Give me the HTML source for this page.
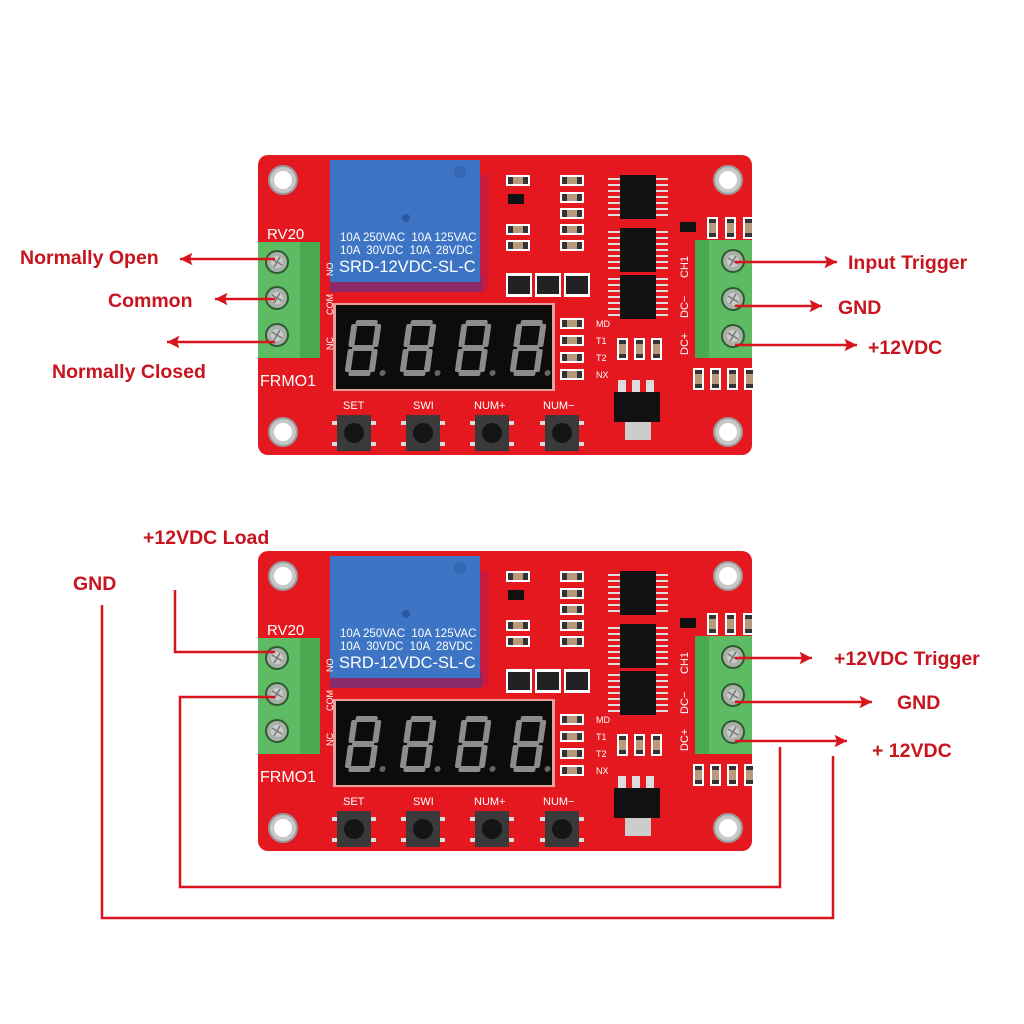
<!DOCTYPE html>
<html><head><meta charset="utf-8"><style>
html,body{margin:0;padding:0;background:#fff;}
svg{display:block;}
.lbl{font-family:"Liberation Sans",sans-serif;font-weight:bold;font-size:19.5px;fill:#c8141e;}
.wt{font-family:"Liberation Sans",sans-serif;fill:#fff;white-space:pre;}
</style></head><body>
<svg width="1024" height="1024" viewBox="0 0 1024 1024" xmlns="http://www.w3.org/2000/svg">
<defs>
<g id="dig" transform="skewX(-8)">
 <rect x="4" y="0" width="22" height="6" rx="2" fill="#8c8c8c"/>
 <rect x="4" y="25" width="22" height="6" rx="2" fill="#8c8c8c"/>
 <rect x="4" y="50" width="22" height="6" rx="2" fill="#8c8c8c"/>
 <rect x="0" y="4" width="6" height="23" rx="2" fill="#8c8c8c"/>
 <rect x="24" y="4" width="6" height="23" rx="2" fill="#8c8c8c"/>
 <rect x="0" y="29" width="6" height="23" rx="2" fill="#8c8c8c"/>
 <rect x="24" y="29" width="6" height="23" rx="2" fill="#8c8c8c"/>
 <circle cx="38" cy="53" r="3" fill="#666"/>
</g>
<g id="hole"><circle r="15" fill="#9a9a9a"/><circle r="13" fill="#c8c8c8"/><circle r="9" fill="#fff"/></g>
<g id="screw"><circle r="12" fill="#2f5a2f"/><circle r="10" fill="#a8b0a8"/><circle r="6" fill="#c8ccc8"/><path d="M-5 -3 L5 3 M-3 5 L3 -5" stroke="#777" stroke-width="1.5"/></g>
<g id="smd"><rect x="0" y="0" width="24" height="11" fill="#fff"/><rect x="2" y="2" width="20" height="7" fill="#333"/><rect x="7" y="2" width="10" height="7" fill="#b89a7a"/></g>
<g id="smdv"><rect x="0" y="0" width="11" height="22" fill="#fff"/><rect x="2" y="2" width="7" height="18" fill="#333"/><rect x="2" y="6" width="7" height="10" fill="#b89a7a"/></g>
<g id="btn"><rect x="-22" y="-12" width="6" height="4" fill="#ddd"/><rect x="16" y="-12" width="6" height="4" fill="#ddd"/><rect x="-22" y="9" width="6" height="4" fill="#ddd"/><rect x="16" y="9" width="6" height="4" fill="#ddd"/><rect x="-17" y="-18" width="34" height="36" fill="#3a3a3a"/><circle r="10" fill="#151515"/></g>
<g id="chip"><g stroke="#ddd" stroke-width="2"><path d="M608 4H668M608 10H668M608 16H668M608 22H668M608 28H668M608 34H668M608 40H668"/></g><rect x="620" y="0" width="36" height="44" fill="#111"/></g>
<g id="board">
 <rect x="258" y="155" width="494" height="300" rx="10" fill="#e5181f"/>
 <use href="#hole" x="283" y="180"/><use href="#hole" x="728" y="180"/>
 <use href="#hole" x="283" y="432"/><use href="#hole" x="728" y="432"/>
 <rect x="478" y="175" width="10" height="115" fill="#c71a40"/>
 <rect x="330" y="275" width="152" height="17" fill="#8a2a6a"/>
 <rect x="330" y="160" width="150" height="122" fill="#3d74c4"/>
 <circle cx="406" cy="218" r="4" fill="#2a5aa0"/>
 <circle cx="460" cy="172" r="6" fill="#3568b4"/>
 <text class="wt" x="340" y="241" font-size="11.5">10A 250VAC  10A 125VAC</text>
 <text class="wt" x="340" y="254" font-size="11.5">10A  30VDC  10A  28VDC</text>
 <text class="wt" x="339" y="272" font-size="16.5">SRD-12VDC-SL-C</text>
 <rect x="258" y="242" width="62" height="116" fill="#5dbb63"/>
 <rect x="300" y="242" width="20" height="116" fill="#4aa850"/>
 <use href="#screw" x="277" y="262"/><use href="#screw" x="277" y="298"/><use href="#screw" x="277" y="335"/>
 <text class="wt" x="267" y="239" font-size="15">RV20</text>
 <text class="wt" x="260" y="386" font-size="16">FRMO1</text>
 <text class="wt" font-size="9" transform="translate(333,276) rotate(-90)">NO</text>
 <text class="wt" font-size="9" transform="translate(333,315) rotate(-90)">COM</text>
 <text class="wt" font-size="9" transform="translate(333,350) rotate(-90)">NC</text>
 <rect x="333" y="303" width="222" height="88" fill="#e7a0a0"/>
 <rect x="336" y="305" width="216" height="84" fill="#0c0c0c"/>
 <use href="#dig" x="352" y="320"/><use href="#dig" x="407" y="320"/>
 <use href="#dig" x="462" y="320"/><use href="#dig" x="517" y="320"/>
 <use href="#smd" x="560" y="318"/><use href="#smd" x="560" y="335"/><use href="#smd" x="560" y="352"/><use href="#smd" x="560" y="369"/>
 <text class="wt" x="596" y="327" font-size="9">MD</text><text class="wt" x="596" y="344" font-size="9">T1</text>
 <text class="wt" x="596" y="361" font-size="9">T2</text><text class="wt" x="596" y="378" font-size="9">NX</text>
 <text class="wt" x="343" y="409" font-size="11">SET</text><text class="wt" x="413" y="409" font-size="11">SWI</text>
 <text class="wt" x="474" y="409" font-size="11">NUM+</text><text class="wt" x="543" y="409" font-size="11">NUM−</text>
 <use href="#btn" x="354" y="433"/><use href="#btn" x="423" y="433"/><use href="#btn" x="492" y="433"/><use href="#btn" x="562" y="433"/>
 <use href="#smd" x="506" y="175"/><use href="#smd" x="506" y="224"/><use href="#smd" x="506" y="240"/>
 <rect x="508" y="194" width="16" height="10" fill="#111"/>
 <use href="#smd" x="560" y="175"/><use href="#smd" x="560" y="192"/><use href="#smd" x="560" y="208"/><use href="#smd" x="560" y="224"/><use href="#smd" x="560" y="240"/>
 <rect x="506" y="273" width="26" height="24" fill="#fff"/><rect x="508" y="276" width="22" height="18" fill="#222"/>
 <rect x="535" y="273" width="26" height="24" fill="#fff"/><rect x="537" y="276" width="22" height="18" fill="#222"/>
 <rect x="564" y="273" width="26" height="24" fill="#fff"/><rect x="566" y="276" width="22" height="18" fill="#222"/>
 <use href="#chip" y="175"/><use href="#chip" y="228"/><use href="#chip" y="275"/>
 <rect x="680" y="222" width="16" height="10" fill="#111"/>
 <use href="#smdv" x="707" y="217"/><use href="#smdv" x="725" y="217"/><use href="#smdv" x="743" y="217"/>
 <use href="#smdv" x="617" y="338"/><use href="#smdv" x="634" y="338"/><use href="#smdv" x="651" y="338"/>
 <use href="#smdv" x="693" y="368"/><use href="#smdv" x="710" y="368"/><use href="#smdv" x="727" y="368"/><use href="#smdv" x="744" y="368"/>
 <rect x="618" y="380" width="8" height="12" fill="#ddd"/><rect x="632" y="380" width="8" height="12" fill="#ddd"/><rect x="646" y="380" width="8" height="12" fill="#ddd"/>
 <rect x="614" y="392" width="46" height="30" fill="#111"/>
 <rect x="625" y="422" width="26" height="18" fill="#ccc"/>
 <rect x="695" y="240" width="57" height="118" fill="#5dbb63"/>
 <rect x="695" y="240" width="14" height="118" fill="#4aa850"/>
 <use href="#screw" x="733" y="261"/><use href="#screw" x="733" y="299"/><use href="#screw" x="733" y="336"/>
 <text class="wt" font-size="11" transform="translate(688,278) rotate(-90)">CH1</text>
 <text class="wt" font-size="11" transform="translate(688,318) rotate(-90)">DC−</text>
 <text class="wt" font-size="11" transform="translate(688,355) rotate(-90)">DC+</text>
</g>
<marker id="ar" viewBox="0 0 10 10" refX="10" refY="5" markerWidth="9" markerHeight="5" orient="auto-start-reverse" markerUnits="strokeWidth"><path d="M0 0L10 5L0 10L2 5z" fill="#d8141c"/></marker>
</defs>

<use href="#board"/>
<use href="#board" y="396"/>

<g stroke="#d8141c" stroke-width="2.5" fill="none">
 <path d="M275 259H180" marker-end="url(#ar)"/>
 <path d="M275 299H215" marker-end="url(#ar)"/>
 <path d="M275 342H167" marker-end="url(#ar)"/>
 <path d="M735 262H837" marker-end="url(#ar)"/>
 <path d="M735 306H822" marker-end="url(#ar)"/>
 <path d="M735 345H857" marker-end="url(#ar)"/>
 <path d="M735 658H812" marker-end="url(#ar)"/>
 <path d="M735 702H872" marker-end="url(#ar)"/>
 <path d="M735 741H847" marker-end="url(#ar)"/>
 <path d="M175 590V652H275"/>
 <path d="M275 697H180V887H780V747"/>
 <path d="M102 605V918H833V756"/>
</g>

<text class="lbl" x="20" y="264">Normally Open</text>
<text class="lbl" x="108" y="307">Common</text>
<text class="lbl" x="52" y="378">Normally Closed</text>
<text class="lbl" x="848" y="269">Input Trigger</text>
<text class="lbl" x="838" y="314">GND</text>
<text class="lbl" x="868" y="354">+12VDC</text>
<text class="lbl" x="143" y="544">+12VDC Load</text>
<text class="lbl" x="73" y="590">GND</text>
<text class="lbl" x="834" y="665">+12VDC Trigger</text>
<text class="lbl" x="897" y="709">GND</text>
<text class="lbl" x="872" y="757">+ 12VDC</text>
</svg>
</body></html>
